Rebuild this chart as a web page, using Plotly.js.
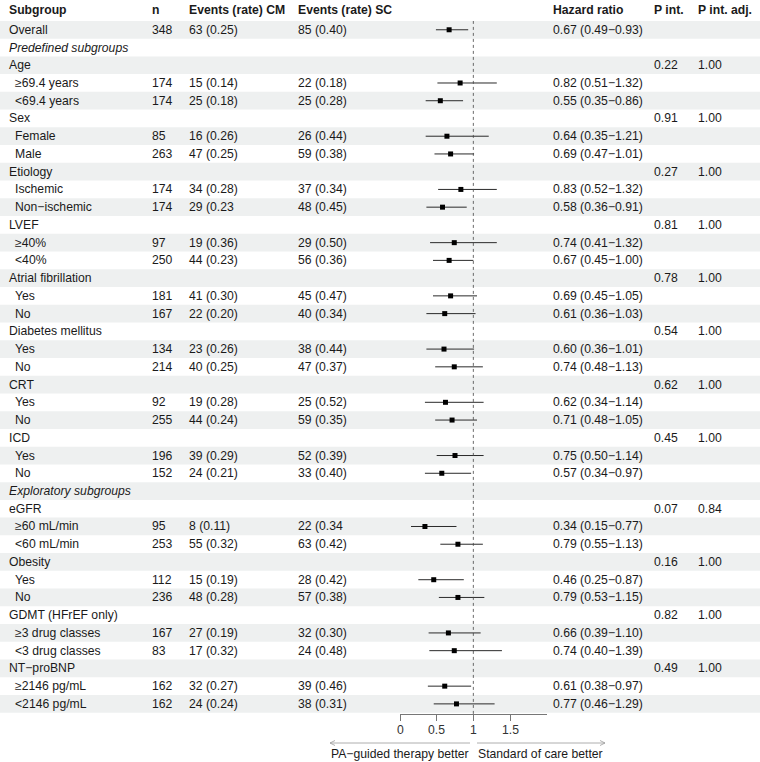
<!DOCTYPE html>
<html>
<head>
<meta charset="utf-8">
<script src="https://cdn.plot.ly/plotly-3.0.1.min.js"></script>
<style>html,body{margin:0;padding:0;background:#fff;}#chart{width:760px;height:762px;}</style>
</head>
<body>
<div id="chart"></div>
<script>
// ---- data ----
const labels = ["Overall","Predefined subgroups","Age","≥69.4 years","<69.4 years","Sex","Female","Male",
  "Etiology","Ischemic","Non−ischemic","LVEF","≥40%","<40%","Atrial fibrillation","Yes","No",
  "Diabetes mellitus","Yes","No","CRT","Yes","No","ICD","Yes","No","Exploratory subgroups",
  "eGFR","≥60 mL/min","<60 mL/min","Obesity","Yes","No","GDMT (HFrEF only)","≥3 drug classes","<3 drug classes",
  "NT−proBNP","≥2146 pg/mL","<2146 pg/mL"];
// 0 = group/overall, 1 = subgroup level, 2 = section heading (italic)
const levels = [0,2,0,1,1,0,1,1,0,1,1,0,1,1,0,1,1,0,1,1,0,1,1,0,1,1,2,0,1,1,0,1,1,0,1,1,0,1,1];
const nVals = [348,null,null,174,174,null,85,263,null,174,174,null,97,250,null,181,167,null,134,214,null,92,255,null,196,152,null,
  null,95,253,null,112,236,null,167,83,null,162,162];
const eventsCM = ["63 (0.25)","","","15 (0.14)","25 (0.18)","","16 (0.26)","47 (0.25)","","34 (0.28)","29 (0.23","",
  "19 (0.36)","44 (0.23)","","41 (0.30)","22 (0.20)","","23 (0.26)","40 (0.25)","","19 (0.28)","44 (0.24)","",
  "39 (0.29)","24 (0.21)","","","8 (0.11)","55 (0.32)","","15 (0.19)","48 (0.28)","","27 (0.19)","17 (0.32)","",
  "32 (0.27)","24 (0.24)"];
const eventsSC = ["85 (0.40)","","","22 (0.18)","25 (0.28)","","26 (0.44)","59 (0.38)","","37 (0.34)","48 (0.45)","",
  "29 (0.50)","56 (0.36)","","45 (0.47)","40 (0.34)","","38 (0.44)","47 (0.37)","","25 (0.52)","59 (0.35)","",
  "52 (0.39)","33 (0.40)","","","22 (0.34","63 (0.42)","","28 (0.42)","57 (0.38)","","32 (0.30)","24 (0.48)","",
  "39 (0.46)","38 (0.31)"];
const hr = [0.67,null,null,0.82,0.55,null,0.64,0.69,null,0.83,0.58,null,0.74,0.67,null,0.69,0.61,null,0.60,0.74,null,
  0.62,0.71,null,0.75,0.57,null,null,0.34,0.79,null,0.46,0.79,null,0.66,0.74,null,0.61,0.77];
const hrLo = [0.49,null,null,0.51,0.35,null,0.35,0.47,null,0.52,0.36,null,0.41,0.45,null,0.45,0.36,null,0.36,0.48,null,
  0.34,0.48,null,0.50,0.34,null,null,0.15,0.55,null,0.25,0.53,null,0.39,0.40,null,0.38,0.46];
const hrHi = [0.93,null,null,1.32,0.86,null,1.21,1.01,null,1.32,0.91,null,1.32,1.00,null,1.05,1.03,null,1.01,1.13,null,
  1.14,1.05,null,1.14,0.97,null,null,0.77,1.13,null,0.87,1.15,null,1.10,1.39,null,0.97,1.29];
const pInt = [null,null,"0.22",null,null,"0.91",null,null,"0.27",null,null,"0.81",null,null,"0.78",null,null,"0.54",null,null,
  "0.62",null,null,"0.45",null,null,null,"0.07",null,null,"0.16",null,null,"0.82",null,null,"0.49",null,null];
const pAdj = [null,null,"1.00",null,null,"1.00",null,null,"1.00",null,null,"1.00",null,null,"1.00",null,null,"1.00",null,null,
  "1.00",null,null,"1.00",null,null,null,"0.84",null,null,"1.00",null,null,"1.00",null,null,"1.00",null,null];
const headers = ["Subgroup","n","Events (rate) CM","Events (rate) SC","Hazard ratio","P int.","P int. adj."];
const xTicks = [0,0.5,1,1.5];
const arrowLeft = "PA−guided therapy better";
const arrowRight = "Standard of care better";

// ---- layout helpers ----
const W = 760, H = 762;
const px = x => x / W;
const py = y => 1 - y / H;
const FONT = "Liberation Sans, Arial, Helvetica, sans-serif";
const FS = 12.2;
const TXT = "#1a1a1a";
const nRows = labels.length;
const rowIdx = labels.map((_, i) => i);
const yTop = -0.5, yBot = 38.57;
const PAD = 1.5; // annotation inner padding compensation

const colX = {label: 8, sub: 14.5, n: 151, cm: 188, sc: 297, hr: 552, p: 653, adj: 697};

const annotations = [];
function addText(x, y, text, opts) {
  annotations.push(Object.assign({
    xref: 'paper', yref: 'y', x: px(x - PAD), y: y, text: text, showarrow: false,
    xanchor: 'left', yanchor: 'middle', align: 'left',
    font: {family: FONT, size: FS, color: TXT}
  }, opts || {}));
}
// headers
const headerX = [colX.label, colX.n, colX.cm, colX.sc, colX.hr, colX.p, colX.adj];
headers.forEach((h, k) => {
  annotations.push({xref: 'paper', yref: 'paper', x: px(headerX[k] - PAD), y: py(10), text: '<b>' + h + '</b>',
    showarrow: false, xanchor: 'left', yanchor: 'middle', font: {family: FONT, size: FS, color: TXT}});
});
const fmt = v => v.toFixed(2);
for (let i = 0; i < nRows; i++) {
  const lv = levels[i];
  const lab = lv === 2 ? '<i>' + labels[i] + '</i>' : labels[i];
  addText(lv === 1 ? colX.sub : colX.label, i, lab);
  if (nVals[i] !== null) addText(colX.n, i, String(nVals[i]));
  if (eventsCM[i]) addText(colX.cm, i, eventsCM[i]);
  if (eventsSC[i]) addText(colX.sc, i, eventsSC[i]);
  if (hr[i] !== null) addText(colX.hr, i, fmt(hr[i]) + ' (' + fmt(hrLo[i]) + '−' + fmt(hrHi[i]) + ')');
  if (pInt[i]) addText(colX.p, i, pInt[i]);
  if (pAdj[i]) addText(colX.adj, i, pAdj[i]);
}
// x tick labels (placed at the reference's pixel row)
xTicks.forEach(t => {
  annotations.push({xref: 'x', yref: 'paper', x: t, y: py(729.5), text: String(t), showarrow: false,
    xanchor: 'center', yanchor: 'middle', font: {family: FONT, size: FS, color: '#333'}});
});
// arrow labels
annotations.push({xref: 'paper', yref: 'paper', x: px(470 + PAD), y: py(754), text: arrowLeft, showarrow: false,
  xanchor: 'right', yanchor: 'middle', font: {family: FONT, size: FS, color: TXT}});
annotations.push({xref: 'paper', yref: 'paper', x: px(477 - PAD), y: py(754), text: arrowRight, showarrow: false,
  xanchor: 'left', yanchor: 'middle', font: {family: FONT, size: FS, color: TXT}});

const shapes = [];
// zebra stripes
for (let i = 0; i < nRows; i += 2) {
  shapes.push({type: 'rect', xref: 'paper', yref: 'y', x0: 0, x1: 1, y0: i - 0.5, y1: i + 0.5,
    fillcolor: '#eef0f0', line: {width: 0}, layer: 'below'});
}
// reference line at HR = 1
shapes.push({type: 'line', xref: 'x', yref: 'y', x0: 1, x1: 1, y0: yTop, y1: yBot,
  line: {color: '#444', width: 0.8, dash: '3px,3px'}});
// direction arrows
const AC = '#9a9a9a', AY = py(743);
function seg(x0, y0, x1, y1) {
  shapes.push({type: 'line', xref: 'paper', yref: 'paper', x0: px(x0), x1: px(x1), y0: y0, y1: y1,
    line: {color: AC, width: 0.8}});
}
seg(470, AY, 330, AY);
seg(330, AY, 335, AY + 2.5 / H); seg(330, AY, 335, AY - 2.5 / H);
seg(477, AY, 605, AY);
seg(605, AY, 600, AY + 2.5 / H); seg(605, AY, 600, AY - 2.5 / H);

// forest trace
const idx = rowIdx.filter(i => hr[i] !== null);
const trace = {
  type: 'scatter', mode: 'markers',
  x: idx.map(i => hr[i]), y: idx,
  marker: {symbol: 'square', size: 5, color: '#000'},
  error_x: {type: 'data', symmetric: false,
    array: idx.map(i => hrHi[i] - hr[i]), arrayminus: idx.map(i => hr[i] - hrLo[i]),
    width: 0, thickness: 1, color: '#2a2a2a'},
  cliponaxis: false, hoverinfo: 'skip'
};

const layout = {
  width: W, height: H, margin: {l: 0, r: 0, t: 0, b: 0},
  paper_bgcolor: '#fff', plot_bgcolor: 'rgba(0,0,0,0)', showlegend: false,
  xaxis: {domain: [px(400), px(546.67)], range: [0, 2], tickvals: xTicks, showticklabels: false,
    showgrid: false, zeroline: false, showline: true, linecolor: '#777', linewidth: 1,
    ticks: 'outside', ticklen: 6, tickcolor: '#777', tickwidth: 1, fixedrange: true},
  yaxis: {domain: [py(714), py(20.9)], range: [yBot, yTop], visible: false, showgrid: false,
    zeroline: false, fixedrange: true},
  shapes: shapes, annotations: annotations
};
Plotly.newPlot('chart', [trace], layout, {displayModeBar: false, staticPlot: true});
</script>
</body>
</html>
